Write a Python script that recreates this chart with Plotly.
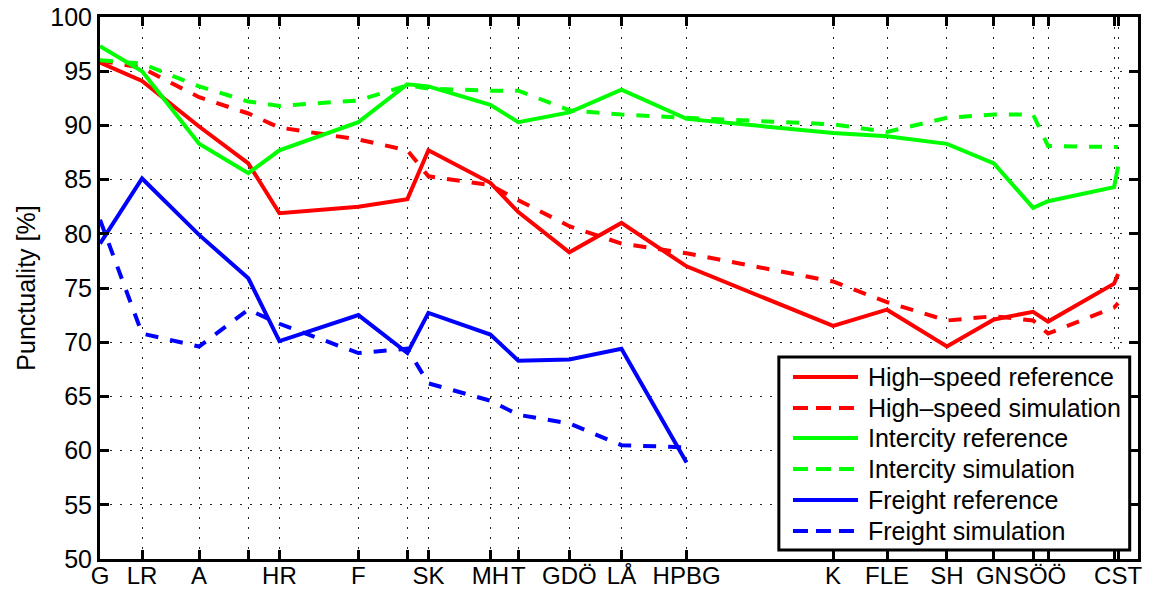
import plotly.graph_objects as go

# Stations along the line, as km from Göteborg (tick marks and grid)
station_km = [0.0, 18.8, 44.3, 66.3, 80.2, 115.5, 137.4, 146.8, 174.5, 187.0,
              209.8, 233.1, 262.2, 327.7, 351.8, 378.6, 399.6, 417.1, 423.8,
              453.3, 455.1]
# Station abbreviations and where their labels are centred (km)
label_text = ["G", "LR", "A", "HR", "F", "SK", "MH", "T", "GDÖ", "LÅ", "HPBG",
              "K", "FLE", "SH", "GN", "SÖÖ", "CST"]
label_km = [0.0, 18.8, 44.3, 80.2, 115.5, 146.8, 174.5, 187.0, 209.8, 233.1,
            262.2, 327.7, 351.8, 378.6, 399.6, 420.0, 455.1]

# Punctuality [%] per station
highspeed_ref = [95.8, 94.1, 89.9, 86.5, 81.9, 82.5, 83.2, 87.7, 84.7, 82.0, 78.3,
                 81.0, 77.0, 71.5, 73.0, 69.6, 72.1, 72.8, 71.9, 75.4, 76.3]
highspeed_sim = [96.0, 95.3, 92.6, 91.1, 89.8, 88.7, 87.7, 85.3, 84.5, 83.1, 80.7,
                 79.1, 78.2, 75.6, 73.7, 72.0, 72.4, 72.0, 70.8, 73.2, 73.6]
intercity_ref = [97.3, 95.0, 88.3, 85.6, 87.7, 90.3, 93.8, 93.6, 91.9, 90.3, 91.2,
                 93.3, 90.6, 89.3, 89.0, 88.3, 86.5, 82.4, 83.0, 84.3, 86.2]
intercity_sim = [96.0, 95.7, 93.6, 92.2, 91.8, 92.3, 93.7, 93.4, 93.2, 93.2, 91.4,
                 91.0, 90.7, 90.1, 89.4, 90.7, 91.0, 91.0, 88.1, 88.0, 88.0]
# Freight trains end at HPBG
freight_ref = [79.1, 85.1, 79.9, 75.9, 70.1, 72.5, 69.0, 72.7, 70.7, 68.3, 68.4,
               69.4, 58.9]
freight_sim = [81.3, 70.8, 69.6, 73.0, 71.7, 69.0, 69.4, 66.2, 64.6, 63.3, 62.5,
               60.5, 60.3]

y_ticks = list(range(50, 101, 5))

FONT = "Liberation Sans, Arial, Helvetica, sans-serif"
FS = 25
RED, GREEN, BLUE = "#ff0000", "#00ff00", "#0000ff"
PLOT_DASH = "13px,12px"
LEGEND_DASH = "15px,8px"
X_RANGE = [0, 464]

series = [
    ("High\u2013speed reference", highspeed_ref, RED, "solid"),
    ("High\u2013speed simulation", highspeed_sim, RED, PLOT_DASH),
    ("Intercity reference", intercity_ref, GREEN, "solid"),
    ("Intercity simulation", intercity_sim, GREEN, PLOT_DASH),
    ("Freight reference", freight_ref, BLUE, "solid"),
    ("Freight simulation", freight_sim, BLUE, PLOT_DASH),
]

fig = go.Figure()
for name, vals, color, dash in series:
    fig.add_trace(go.Scatter(
        x=station_km[:len(vals)], y=vals, mode="lines", name=name,
        line=dict(color=color, width=4, dash=dash),
        showlegend=False,
    ))

axis_common = dict(
    showline=True, linecolor="black", linewidth=3, mirror="ticks",
    ticks="inside", ticklen=9, tickwidth=3, tickcolor="black",
    showgrid=True, gridcolor="#222222", gridwidth=1, griddash="2px,8px",
    zeroline=False, automargin=False, tickangle=0,
    tickfont=dict(family=FONT, size=FS, color="black"),
)

# Tick marks and grid at every station
fig.update_xaxes(range=X_RANGE, tickmode="array", tickvals=station_km,
                 showticklabels=False, **axis_common)
fig.update_yaxes(range=[50, 100], tickmode="array", tickvals=y_ticks,
                 ticktext=[str(v) for v in y_ticks],
                 title=dict(text="Punctuality [%]", standoff=8,
                            font=dict(family=FONT, size=FS, color="black")),
                 **axis_common)
# Station names on a label-only axis sharing the same scale
fig.update_layout(xaxis2=dict(
    overlaying="x", side="bottom", range=X_RANGE, tickmode="array",
    tickvals=label_km, ticktext=label_text, ticks="", showline=False,
    showgrid=False, zeroline=False, automargin=False, tickangle=0,
    tickfont=dict(family=FONT, size=24, color="black"),
))
fig.add_trace(go.Scatter(x=[], y=[], xaxis="x2", showlegend=False))

# Boxed legend in the lower right corner of the axes
lx0, lx1, ly0, ly1 = 0.654, 0.992, 0.0166, 0.3727
fig.add_shape(type="rect", xref="paper", yref="paper", x0=lx0, x1=lx1, y0=ly0, y1=ly1,
              line=dict(color="black", width=3), fillcolor="white", layer="above")
row_y = [0.3358, 0.2786, 0.2232, 0.1661, 0.1089, 0.0517]
for (name, _, color, dash), ry in zip(series, row_y):
    fig.add_shape(type="line", xref="paper", yref="paper", x0=0.6676, x1=0.7303,
                  y0=ry, y1=ry, layer="above",
                  line=dict(color=color, width=4,
                            dash="solid" if dash == "solid" else LEGEND_DASH))
    fig.add_annotation(xref="paper", yref="paper", x=0.738, y=ry, text=name,
                       showarrow=False, xanchor="left", yanchor="middle",
                       font=dict(family=FONT, size=FS, color="black"))

fig.update_layout(
    width=1151, height=592, autosize=False,
    margin=dict(l=100, r=13, t=17, b=33),
    paper_bgcolor="white", plot_bgcolor="white",
    font=dict(family=FONT, size=FS, color="black"),
)

fig.write_html("out.html")
